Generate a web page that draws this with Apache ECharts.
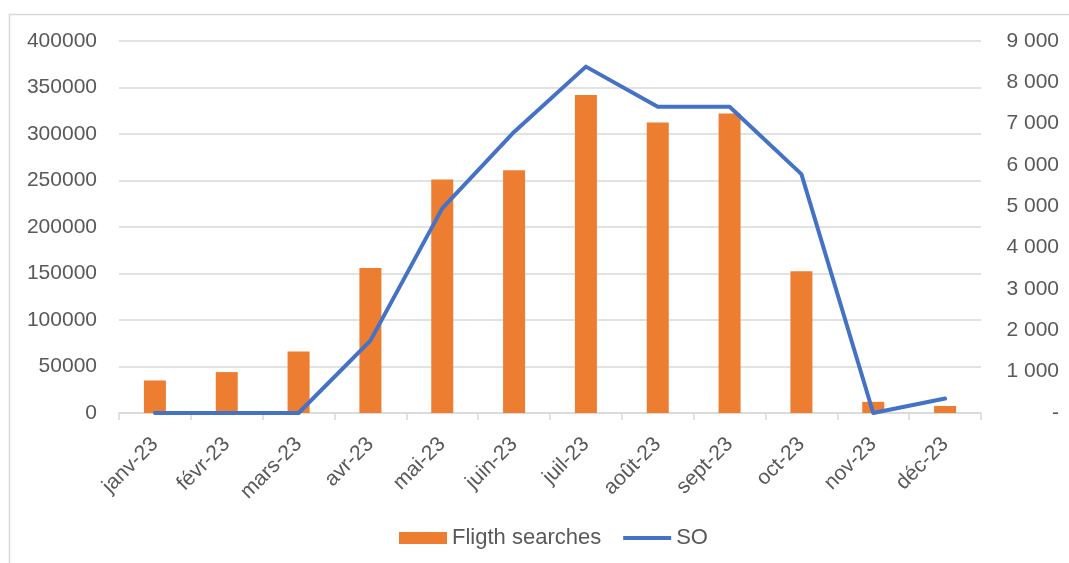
<!DOCTYPE html>
<html>
<head>
<meta charset="utf-8">
<script src="https://cdn.jsdelivr.net/npm/echarts@6/dist/echarts.min.js"></script>
<style>
  html, body { margin: 0; padding: 0; background: #fff; }
  #chart { width: 1069px; height: 563px; }
</style>
</head>
<body>
<div id="chart"></div>
<script>
// Monthly categories for 2023
const months = ['janv-23', 'févr-23', 'mars-23', 'avr-23', 'mai-23', 'juin-23',
                'juil-23', 'août-23', 'sept-23', 'oct-23', 'nov-23', 'déc-23'];

// Flight searches (left axis)
const flightSearches = [35000, 44000, 66000, 156000, 251000, 261000,
                        342000, 312500, 322000, 152500, 12000, 7500];

// SO (right axis)
const soValues = [0, 0, 0, 1750, 4950, 6800, 8380, 7410, 7410, 5780, 0, 350];

const textColor = '#595959';
const gridColor = '#d9d9d9';
const font = 'Liberation Sans, Arial, sans-serif';

const chart = echarts.init(document.getElementById('chart'));

chart.setOption({
  animation: false,
  textStyle: { fontFamily: font },
  graphic: [{
    type: 'rect',
    shape: { x: 9.5, y: 14.5, width: 1200, height: 700 },
    style: { fill: 'none', stroke: gridColor, lineWidth: 1.5 },
    silent: true,
    z: -1
  }],
  grid: { left: 119, right: 88, top: 41, bottom: 150, containLabel: false },
  legend: {
    top: 522,
    left: 394,
    itemGap: 22,
    itemWidth: 48,
    itemHeight: 12,
    textStyle: { color: textColor, fontSize: 22, fontFamily: font },
    data: [
      { name: 'Fligth searches', icon: 'rect' },
      { name: 'SO', icon: 'path://M0,0 L48,0 L48,4 L0,4 Z' }
    ]
  },
  xAxis: {
    type: 'category',
    data: months,
    axisLine: { show: true, lineStyle: { color: gridColor, width: 1.5 } },
    axisTick: { show: true, length: 7, lineStyle: { color: gridColor, width: 1.5 } },
    axisLabel: { rotate: 45, color: textColor, fontSize: 21, margin: 28, fontFamily: font }
  },
  yAxis: [
    {
      type: 'value',
      min: 0,
      max: 400000,
      interval: 50000,
      axisLine: { show: false },
      axisTick: { show: false },
      axisLabel: {
        color: textColor, fontSize: 21, margin: 22, fontFamily: font,
        formatter: function (v) { return String(v); }
      },
      splitLine: { lineStyle: { color: gridColor, width: 1.5 } }
    },
    {
      type: 'value',
      min: 0,
      max: 9000,
      interval: 1000,
      position: 'right',
      axisLine: { show: false },
      axisTick: { show: false },
      splitLine: { show: false },
      axisLabel: {
        color: textColor,
        fontSize: 21,
        margin: 78,
        align: 'right',
        fontFamily: font,
        formatter: function (v) {
          if (v === 0) return '-';
          return String(v).replace(/\B(?=(\d{3})+(?!\d))/g, ' ');
        }
      }
    }
  ],
  series: [
    {
      name: 'Fligth searches',
      type: 'bar',
      yAxisIndex: 0,
      data: flightSearches,
      barWidth: 22,
      itemStyle: { color: '#ED7D31' }
    },
    {
      name: 'SO',
      type: 'line',
      yAxisIndex: 1,
      data: soValues,
      symbol: 'none',
      lineStyle: { color: '#4472C4', width: 4, cap: 'round', join: 'round' },
      itemStyle: { color: '#4472C4' }
    }
  ]
});
</script>
</body>
</html>
